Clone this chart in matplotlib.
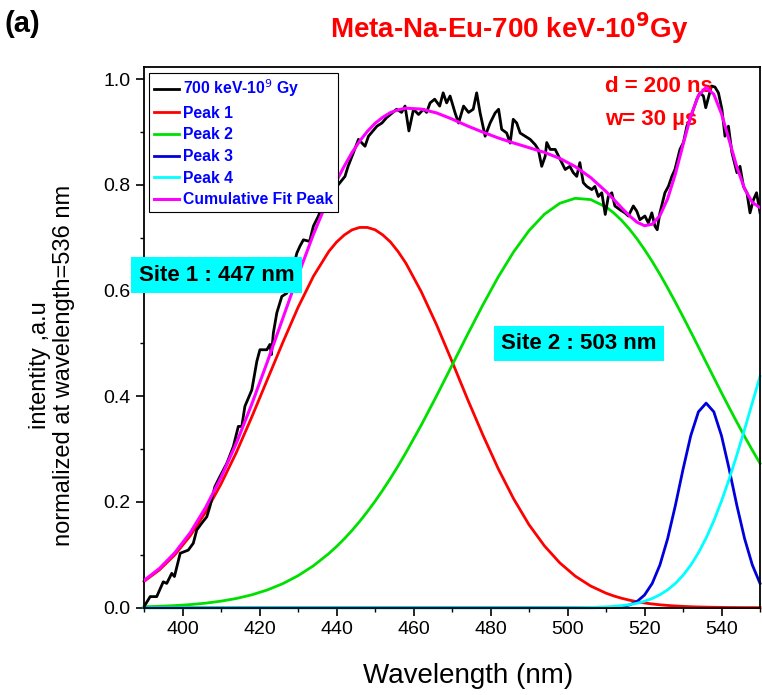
import matplotlib
matplotlib.use("Agg")
import matplotlib.pyplot as plt
from matplotlib.ticker import MultipleLocator

# ----------------------------- data -------------------
# common wavelength grid for the fitted peaks [nm]
wl_fit = [390, 394, 398, 402, 406, 410, 414, 418, 422, 426, 430, 434, 438,
          440, 442, 444, 446, 448, 450, 452, 454, 456, 458,
          462, 466, 470, 474, 478, 482, 486, 490, 494, 498, 502, 506, 510,
          512, 514, 516, 518, 520, 522, 524, 526, 528, 530, 532, 534, 536,
          538, 540, 542, 544, 546, 548, 550]

peak1 = [0.0498, 0.0715, 0.100, 0.136, 0.181, 0.234, 0.294, 0.361, 0.431,
         0.501, 0.568, 0.627, 0.674,
         0.6916, 0.705, 0.7147, 0.7194, 0.7194, 0.715, 0.7053, 0.692, 0.6736, 0.652,
         0.598, 0.535, 0.466, 0.395, 0.327, 0.263, 0.206, 0.157, 0.117,
         0.0848, 0.0598, 0.0411, 0.0275,
         0.0223, 0.0180, 0.0144, 0.0114, 0.0090, 0.0071, 0.0055, 0.0043,
         0.0033, 0.0025, 0.0019, 0.0014, 0.0011, 0.0008, 0.0006, 0.0004,
         0.0003, 0.0002, 0.0002, 0.0001]

peak2 = [0.0017, 0.0027, 0.0040, 0.0059, 0.0086, 0.0124, 0.0175, 0.0244,
         0.0335, 0.0454, 0.0605, 0.0793, 0.1024,
         0.1157, 0.1302, 0.1460, 0.1631, 0.1816, 0.2013, 0.2224, 0.2447, 0.2682, 0.2930,
         0.3453, 0.4010, 0.4585, 0.5164, 0.5727, 0.6257, 0.6732, 0.7133,
         0.7444, 0.7651, 0.7745, 0.7721, 0.7581,
         0.7469, 0.7331, 0.7169, 0.6983, 0.6775, 0.6550, 0.6308, 0.6050,
         0.5782, 0.5505, 0.5221, 0.4933, 0.4643, 0.4354, 0.4066, 0.3784,
         0.3508, 0.3239, 0.2980, 0.2731]

peak3 = [0.0] * 35 + [
         0.0002, 0.0007, 0.0020, 0.0050, 0.0114, 0.0240, 0.0460, 0.0809,
         0.1305, 0.1930, 0.2617, 0.3252, 0.3706, 0.3870, 0.3706, 0.3252,
         0.2617, 0.1930, 0.1305, 0.0809, 0.0460]

peak4 = [0.0] * 32 + [
         0.0001, 0.0002, 0.0006, 0.0016,
         0.0025, 0.0038, 0.0057, 0.0084, 0.0122, 0.0174, 0.0245, 0.0338,
         0.0458, 0.0612, 0.0804, 0.1038, 0.1318, 0.1645, 0.2019, 0.2437,
         0.2893, 0.3378, 0.3876, 0.4375]

# measured spectrum (700 keV, 10^9 Gy), normalised at 536 nm
wl_meas = [390.0, 391.6, 393.3, 395.0, 395.9, 397.2, 397.9, 399.4, 401.5,
           402.8, 403.7, 405.0, 406.3, 407.1, 408.4, 409.7, 411.5, 413.2,
           414.5, 415.4, 416.2, 418.0, 419.3, 420.1, 421.9, 422.7, 423.1,
           423.6, 424.5, 425.8, 427.1, 428.4, 429.7, 430.5, 431.4, 433.0,
           434.0, 435.3, 436.6, 437.9, 439.2, 440.1, 442.2, 443.0, 444.4,
           445.7, 447.4, 448.3, 450.5, 451.8, 453.0, 455.6, 456.9, 457.8,
           458.8, 460.0, 461.3, 462.6, 463.4, 464.3, 465.5, 466.8, 467.7,
           468.6, 469.5, 470.8, 471.7, 473.0, 474.3, 475.5, 476.4, 477.3,
           478.6, 479.9, 481.2, 482.1, 482.9, 484.2, 485.1, 485.9, 486.8,
           487.7, 489.0, 490.3, 491.6, 492.4, 493.3, 494.2, 494.6, 495.5,
           496.8, 498.1, 499.4, 500.6, 501.5, 502.4, 503.2, 504.1, 505.0,
           506.3, 507.1, 508.0, 508.9, 509.8, 510.6, 511.5, 512.3, 513.6,
           514.9, 515.8, 517.1, 518.0, 518.8, 520.1, 521.0, 521.9, 522.7,
           523.3, 524.0, 525.3, 526.2, 527.1, 527.9, 529.2, 530.1, 531.0,
           531.8, 532.7, 533.6, 534.4, 535.3, 535.9, 536.6, 537.4, 538.3,
           539.2, 540.1, 540.9, 541.8, 542.7, 544.0, 544.8, 545.7, 546.6,
           547.4, 548.3, 549.1, 550.0]
i_meas = [0.002, 0.021, 0.021, 0.049, 0.046, 0.065, 0.059, 0.103, 0.109,
          0.122, 0.147, 0.160, 0.172, 0.191, 0.229, 0.248, 0.273, 0.305,
          0.343, 0.343, 0.381, 0.412, 0.466, 0.488, 0.488, 0.498, 0.479,
          0.520, 0.558, 0.589, 0.595, 0.633, 0.671, 0.684, 0.696, 0.693,
          0.722, 0.741, 0.766, 0.797, 0.790, 0.797, 0.816, 0.835, 0.861,
          0.886, 0.873, 0.892, 0.911, 0.917, 0.927, 0.943, 0.937, 0.949,
          0.902, 0.943, 0.933, 0.943, 0.937, 0.955, 0.962, 0.949, 0.974,
          0.955, 0.968, 0.936, 0.917, 0.949, 0.937, 0.943, 0.974, 0.936,
          0.892, 0.917, 0.936, 0.943, 0.905, 0.898, 0.879, 0.924, 0.917,
          0.898, 0.892, 0.886, 0.876, 0.867, 0.835, 0.854, 0.880, 0.867,
          0.867, 0.848, 0.829, 0.835, 0.823, 0.816, 0.842, 0.804, 0.797,
          0.791, 0.797, 0.778, 0.785, 0.744, 0.778, 0.785, 0.760, 0.753,
          0.747, 0.741, 0.760, 0.750, 0.734, 0.741, 0.728, 0.747, 0.722,
          0.715, 0.747, 0.785, 0.797, 0.816, 0.829, 0.867, 0.880, 0.911,
          0.924, 0.943, 0.962, 0.974, 0.968, 0.946, 0.965, 0.987, 0.985,
          0.974, 0.943, 0.892, 0.911, 0.861, 0.823, 0.835, 0.797, 0.785,
          0.747, 0.772, 0.785, 0.747]

# cumulative fit is the sum of the four fitted peaks
cumulative = [a + b + c + d for a, b, c, d in zip(peak1, peak2, peak3, peak4)]

# ----------------------------- plotting -------------------------------------
plt.rcParams.update({"font.family": ["Liberation Sans", "DejaVu Sans"],
                     "xtick.direction": "out", "ytick.direction": "out"})

fig = plt.figure(figsize=(7.62, 6.95), dpi=100)
ax = fig.add_axes([0.189, 0.1256, 0.8084, 0.7773])

ax.plot(wl_meas, i_meas, color="black", lw=2.0, label="700 keV-10$^{9}$ Gy", zorder=3)
ax.plot(wl_fit, peak1, color="#ff0000", lw=2.0, label="Peak 1", clip_on=False)
ax.plot(wl_fit, peak2, color="#00e000", lw=2.0, label="Peak 2", clip_on=False)
ax.plot(wl_fit, peak3, color="#0000dd", lw=2.0, label="Peak 3", clip_on=False)
ax.plot(wl_fit, peak4, color="#00ffff", lw=2.0, label="Peak 4", clip_on=False)
ax.plot(wl_fit, cumulative, color="#ff00ff", lw=2.2, label="Cumulative Fit Peak", zorder=4)

ax.set_xlim(390, 550)
ax.set_ylim(0, 1.022)
ax.xaxis.set_major_locator(MultipleLocator(20))
ax.xaxis.set_minor_locator(MultipleLocator(10))
ax.yaxis.set_major_locator(MultipleLocator(0.2))
ax.yaxis.set_minor_locator(MultipleLocator(0.1))
ax.yaxis.set_major_formatter(lambda v, p: f"{v:.1f}")
ax.tick_params(which="major", length=6, width=1.2, labelsize=14)
ax.tick_params(which="minor", length=3, width=1.0)
for s in ax.spines.values():
    s.set_linewidth(1.3)

ax.set_xlabel("Wavelength (nm)", fontsize=20)
ax.xaxis.set_label_coords(0.526, -0.102)
ax.set_ylabel("intentity ,a.u\nnormalized at wavelength=536 nm", fontsize=17,
              linespacing=1.1)
ax.yaxis.set_label_coords(-0.112, 0.449)

leg = ax.legend(loc="upper left", bbox_to_anchor=(0.008, 0.99), borderaxespad=0,
                fancybox=False, framealpha=1, edgecolor="black", handlelength=1.6,
                handletextpad=0.3, labelspacing=0.42, borderpad=0.3,
                prop={"weight": "bold", "size": 11.3})
leg.get_frame().set_linewidth(0.8)
for t in leg.get_texts():
    t.set_color("#0000ff")

ax.text(509.7, 0.975, "d = 200 ns", color="#ff0000", fontsize=16, fontweight="bold",
        va="baseline")
ax.text(509.7, 0.914, "w= 30 µs", color="#ff0000", fontsize=16, fontweight="bold",
        va="baseline")

box = dict(boxstyle="square,pad=0.33", fc="#00ffff", ec="none")
ax.text(408.8, 0.629, "Site 1 : 447 nm", fontsize=16, fontweight="bold",
        ha="center", va="center", bbox=box, clip_on=False, zorder=6)
ax.text(502.9, 0.500, "Site 2 : 503 nm", fontsize=16, fontweight="bold",
        ha="center", va="center", bbox=box, zorder=6)

fig.text(0.668, 0.96, "Meta-Na-Eu-700 keV-10$^{\\mathbf{9}}$Gy", color="#ff0000",
         fontsize=20, fontweight="bold", ha="center", va="center")
fig.text(0.006, 0.966, "(a)", fontsize=21, fontweight="bold", ha="left", va="center")

fig.savefig("out.png", dpi=100)
